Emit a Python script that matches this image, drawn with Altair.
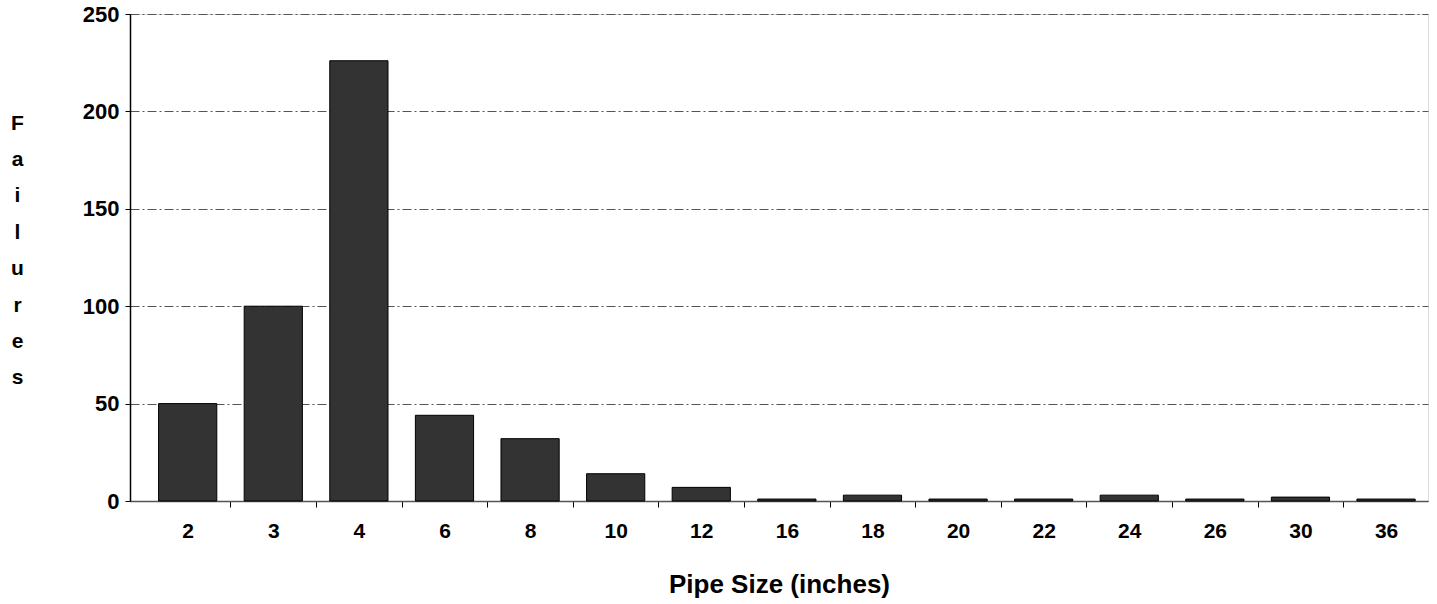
import altair as alt
import pandas as pd

sizes = ["2", "3", "4", "6", "8", "10", "12", "16", "18", "20", "22", "24", "26", "30", "36"]
failures = [50, 100, 226, 44, 32, 14, 7, 1, 3, 1, 1, 3, 1, 2, 1]
y_ticks = [0, 50, 100, 150, 200, 250]

df = pd.DataFrame({"size": sizes, "failures": failures})

FONT = "Liberation Sans"
STEP = 1298 / (15 - 0.32 + 2 * 0.242)

chart = alt.Chart(df).mark_bar(
    color="#333333", stroke="#000000", strokeWidth=1
).encode(
    x=alt.X(
        "size:N",
        sort=sizes,
        scale=alt.Scale(paddingInner=0.32, paddingOuter=0.242, align=0.69),
        axis=alt.Axis(
            title="Pipe Size (inches)",
            titleFont=FONT, titleFontSize=26, titleFontWeight="bold", titleColor="#000",
            titleBaseline="middle", titleY=83,
            labelFont=FONT, labelFontSize=21, labelFontWeight="bold", labelColor="#000",
            labelAngle=0, labelPadding=13,
            tickSize=6, tickColor=alt.condition("datum.value == '2'", alt.value("transparent"), alt.value("#000")),
            tickOffset=-STEP / 2, labelOffset=STEP / 2,
            domainColor="#555", domainWidth=1.5,
            grid=False,
        ),
    ),
    y=alt.Y(
        "failures:Q",
        scale=alt.Scale(domain=[0, 250], nice=False),
        axis=alt.Axis(
            values=y_ticks,
            title=["F", "a", "i", "l", "u", "r", "e", "s"],
            titleAngle=0, titleAlign="center", titleBaseline="middle",
            titleX=-113, titleY=109, titleLineHeight=36.4,
            titleFont=FONT, titleFontSize=21, titleFontWeight="bold", titleColor="#000",
            labelFont=FONT, labelFontSize=22, labelFontWeight="bold", labelColor="#000",
            labelPadding=6, tickSize=5, tickColor="#000",
            domainColor="#000", domainWidth=1.5,
            grid=True, gridColor="#555", gridWidth=1, gridDash=[9, 3, 2, 3],
        ),
    ),
).properties(
    width=1298,
    height=487,
    padding={"left": 130, "top": 14, "right": 9, "bottom": 103},
    autosize=alt.AutoSizeParams(type="none"),
).configure_view(stroke=None).configure(background="#ffffff")

chart.save("out.html", embed_options={"renderer": "svg", "actions": False})
